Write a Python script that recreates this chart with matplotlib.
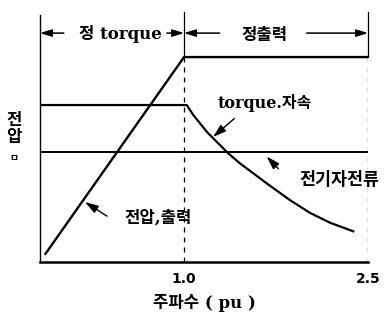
import matplotlib.pyplot as plt

plt.rcParams['font.family'] = ['DejaVu Serif', 'Noto Sans CJK KR', 'DejaVu Sans']

# frequency (pu) vs. relative level
volt_f = [-0.13, 1.0, 2.5]
volt_v = [0.04, 1.0, 1.0]

torque_f = [-0.174, 1.0, 1.022, 1.076, 1.130, 1.185, 1.239, 1.293, 1.361,
            1.457, 1.565, 1.674, 1.769, 1.864, 2.027, 2.190, 2.380]
torque_v = [0.766, 0.766, 0.766, 0.717, 0.677, 0.636, 0.603, 0.571, 0.530,
            0.481, 0.433, 0.384, 0.343, 0.302, 0.240, 0.192, 0.150]

arm_f = [-0.174, 2.5]
arm_v = [0.537, 0.537]

tick_pos = [1.0, 2.5]
tick_lab = ['1.0', '2.5']

fig = plt.figure(figsize=(3.87, 3.2), dpi=100)
ax = fig.add_axes([0.1034, 0.181, 0.8476, 0.772])
ax.set_xlim(-0.174, 2.5)
ax.set_ylim(0, 1.205)

ax.plot(volt_f, volt_v, 'k-', lw=1.7)
ax.plot(torque_f, torque_v, 'k-', lw=1.6, solid_joinstyle='round')
ax.plot(arm_f, arm_v, 'k-', lw=1.4)

# region boundaries
for xb in tick_pos:
    ax.plot([xb, xb], [0, 1.0], 'k--', lw=0.9, dashes=(4, 4))
    ax.plot([xb, xb], [1.0, 1.22], 'k-', lw=0.9, clip_on=False)

for s in ['top', 'right']:
    ax.spines[s].set_visible(False)
ax.spines['left'].set_linewidth(1.0)
ax.spines['bottom'].set_linewidth(1.8)

ax.set_yticks([])
ax.set_xticks(tick_pos)
ax.set_xticklabels(tick_lab, fontsize=10, fontweight='bold', family='DejaVu Sans')
ax.tick_params(axis='x', length=0, pad=7)
ax.set_xlabel('주파수 ( pu )', fontsize=12, fontweight='bold', labelpad=6)

# constant torque / constant power spans
ya = 1.117
ap = dict(arrowstyle='-|>,head_length=0.7,head_width=0.22', color='k', lw=1.1,
          mutation_scale=10, shrinkA=0, shrinkB=0)
ax.annotate('', xy=(-0.174, ya), xytext=(0.02, ya), arrowprops=ap)
ax.annotate('', xy=(1.0, ya), xytext=(0.86, ya), arrowprops=ap)
ax.text(0.48, ya - 0.005, '정 torque', ha='center', va='center', fontsize=12, fontweight='bold')
ax.annotate('', xy=(1.0, ya), xytext=(1.29, ya), arrowprops=ap)
ax.annotate('', xy=(2.5, ya), xytext=(2.0, ya), arrowprops=ap)
ax.text(1.652, ya - 0.012, '정출력', ha='center', va='center', fontsize=12, fontweight='bold')

# curve labels
lp = dict(arrowstyle='-|>,head_length=0.8,head_width=0.25', color='k', lw=1.0,
          mutation_scale=10, shrinkA=0, shrinkB=0)
ax.text(1.66, 0.776, 'torque.자속', ha='center', va='center', fontsize=11.5, fontweight='bold')
ax.annotate('', xy=(1.236, 0.610), xytext=(1.41, 0.70), arrowprops=lp)
ax.text(2.27, 0.40, '전기자전류', ha='center', va='center', fontsize=12.5, fontweight='bold')
ax.annotate('', xy=(1.674, 0.515), xytext=(1.77, 0.455), arrowprops=lp)
ax.text(0.79, 0.215, '전압,출력', ha='center', va='center', fontsize=12, fontweight='bold')
ax.annotate('', xy=(0.193, 0.293), xytext=(0.372, 0.224), arrowprops=lp)

fig.text(0.036, 0.625, '전', ha='center', va='center', fontsize=12, fontweight='bold')
fig.text(0.036, 0.569, '압', ha='center', va='center', fontsize=12, fontweight='bold')
fig.text(0.036, 0.506, 'ㅁ', ha='center', va='center', fontsize=7, fontweight='bold')

fig.savefig('out.png', dpi=100)
